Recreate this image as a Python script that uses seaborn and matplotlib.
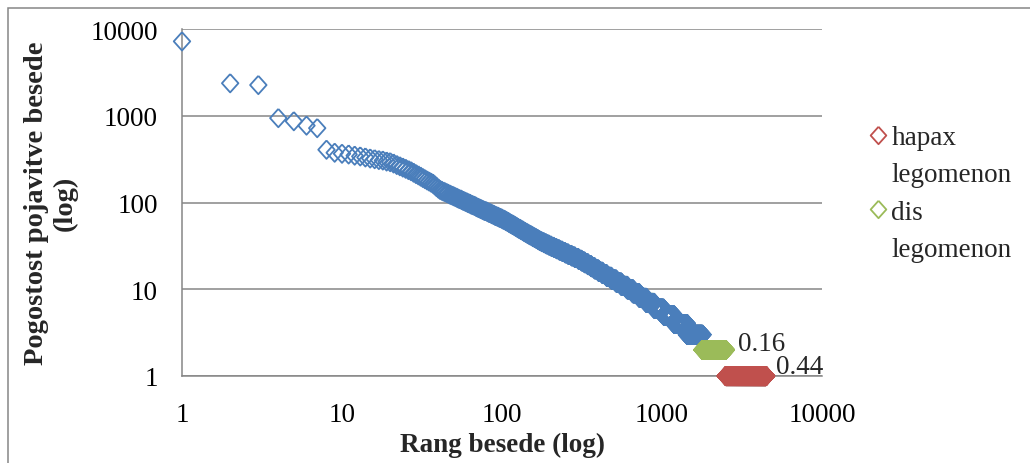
import numpy as np
import pandas as pd
import matplotlib
matplotlib.use("Agg")
import matplotlib.pyplot as plt
from matplotlib.lines import Line2D
from matplotlib.patches import Rectangle
from matplotlib.ticker import NullLocator
import seaborn as sns

# Frequencies of the 100 most frequent word types, in rank order
top_freqs = [7200, 2370, 2260, 940, 865, 770, 720, 406, 375, 365,
             358, 347, 340, 331, 322, 316, 309, 305, 297, 292,
             282, 271, 262, 253, 245, 237, 230, 221, 213, 206,
             199, 192, 186, 180, 175, 170, 165, 158, 151, 145,
             140, 137, 134, 132, 129, 127, 124, 122, 120, 118,
             116, 114, 112, 110, 109, 107, 105, 104, 102, 101,
             99, 98, 97, 95, 94, 93, 92, 91, 89, 88,
             87, 86, 85, 84, 83, 82, 81, 80, 80, 79,
             78, 77, 76, 76, 75, 74, 73, 73, 72, 71,
             70, 70, 69, 69, 68, 67, 67, 66, 66, 65]

# Frequency spectrum below that: number of word types seen exactly f times
spectrum_freq = [64, 63, 62, 61, 60, 59, 58, 57, 56, 55, 54, 53, 52, 51,
                 50, 49, 48, 47, 46, 45, 44, 43, 42, 41, 40, 39, 38, 37,
                 36, 35, 34, 33, 32, 31, 30, 29, 28, 27, 26, 25, 24, 23,
                 22, 21, 20, 19, 18, 17, 16, 15, 14, 13, 12, 11, 10, 9,
                 8, 7, 6, 5, 4, 3]
spectrum_count = [2, 2, 1, 2, 2, 1, 2, 2, 2, 2, 2, 2, 2, 2,
                  3, 2, 3, 2, 3, 3, 3, 3, 4, 3, 4, 4, 4, 4,
                  5, 6, 6, 7, 7, 8, 8, 9, 10, 10, 11, 13, 13, 15,
                  14, 14, 16, 17, 18, 21, 24, 26, 31, 35, 40, 49, 53, 63,
                  75, 95, 130, 170, 240, 358]

# Shares of the vocabulary made up by words seen twice / once
share_dis = 0.16
share_hapax = 0.44

series_names = ["ostale", "hapax legomenon", "dis legomenon"]
series_colors = ["#4A7EBB", "#C0504D", "#9BBB59"]
legend_lines = [["hapax", "legomenon"], ["dis", "legomenon"]]

x_ticks = [1, 10, 100, 1000, 10000]
y_ticks = [1, 10, 100, 1000, 10000]
x_title = "Rang besede (log)"
y_title = "Pogostost pojavitve besede\n(log)"

# ---- build rank / frequency table ----
other_freq = np.concatenate([top_freqs, np.repeat(spectrum_freq, spectrum_count)])
n_other = len(other_freq)
n_types = int(round(n_other / (1 - share_dis - share_hapax)))
n_dis = int(round(share_dis * n_types))
n_hapax = n_types - n_other - n_dis

freq = np.concatenate([other_freq, np.full(n_dis, 2), np.full(n_hapax, 1)])
group = ([series_names[0]] * n_other + [series_names[2]] * n_dis
         + [series_names[1]] * n_hapax)
df = pd.DataFrame({"rang": np.arange(1, n_types + 1), "pogostost": freq,
                   "skupina": group})

# ---- style ----
sns.set_style("white")
plt.rcParams["font.family"] = ["Liberation Serif", "DejaVu Serif"]
grey = "#868686"
fs = 19.5

W, H = 1030, 464
fig = plt.figure(figsize=(W / 100, H / 100), dpi=100)
ax = fig.add_axes([182 / W, 1 - 377 / H, 640 / W, 347 / H])

# hollow, slightly tall diamond
diamond = [(0, 1), (0.9, 0), (0, -1), (-0.9, 0), (0, 1)]
msize = 13.2
mlw = 1.3

sns.scatterplot(data=df, x="rang", y="pogostost", hue="skupina",
                hue_order=series_names, palette=series_colors,
                marker=diamond, s=msize ** 2, linewidth=mlw,
                legend=False, ax=ax, zorder=3)
coll = ax.collections[0]
coll.set_edgecolors(coll.get_facecolors())
coll.set_facecolors("none")
coll.set_clip_on(False)

ax.set_xscale("log")
ax.set_yscale("log")
ax.set_xlim(1, 10000)
ax.set_ylim(1, 10000)
ax.set_xticks(x_ticks)
ax.set_xticklabels([str(t) for t in x_ticks])
ax.set_yticks(y_ticks)
ax.set_yticklabels([str(t) for t in y_ticks])
ax.xaxis.set_minor_locator(NullLocator())
ax.yaxis.set_minor_locator(NullLocator())

ax.yaxis.grid(True, color=grey, linewidth=1.1, zorder=0)
ax.xaxis.grid(False)
ax.set_axisbelow(True)
for side in ("top", "right"):
    ax.spines[side].set_visible(False)
for side in ("left", "bottom"):
    ax.spines[side].set_color(grey)
    ax.spines[side].set_linewidth(1.1)

ax.tick_params(axis="y", direction="out", length=6.5, width=1.1, color=grey,
               pad=11, labelsize=fs, labelcolor="black")
ax.tick_params(axis="x", direction="out", length=6, width=1.1, color=grey,
               pad=13, labelsize=fs, labelcolor="black")

ax.set_xlabel(x_title, fontsize=fs, fontweight="bold", labelpad=3)
ax.set_ylabel(y_title, fontsize=20.5, fontweight="bold", multialignment="center")
ax.yaxis.set_label_coords(-0.163, 0.5)

# share labels next to the last point of each rare-word series
share_labels = [(n_other + n_dis, 2, share_dis, (8.5, 0)),
                (n_types, 1, share_hapax, (7, 2))]
for rank, f, share, off in share_labels:
    ax.annotate(f"{share:.2f}", xy=(rank, f), xytext=off,
                textcoords="offset points", ha="left", va="baseline",
                fontsize=fs, annotation_clip=False)

# legend: hapax and dis legomenon only
handles, labels = [], []
for color, lines in zip(series_colors[1:], legend_lines):
    handles.append(Line2D([], [], ls="none", marker=diamond, markersize=msize * 0.95,
                          mfc="none", mec=color, mew=mlw))
    labels.append(lines[0])
    handles.append(Line2D([], [], ls="none"))
    labels.append(lines[1])
fig.legend(handles, labels, loc="upper left",
           bbox_to_anchor=(871 / W, 1 - 126 / H), frameon=False,
           fontsize=fs, handlelength=0.5, handletextpad=0.25,
           labelspacing=0.46, borderpad=0, borderaxespad=0)

# chart-area border
fig.add_artist(Rectangle((8 / W, -0.1), 1.2, 1.1 - 9 / H,
                         transform=fig.transFigure, fill=False,
                         edgecolor=grey, linewidth=1.1))

fig.savefig("out.png", dpi=100)
